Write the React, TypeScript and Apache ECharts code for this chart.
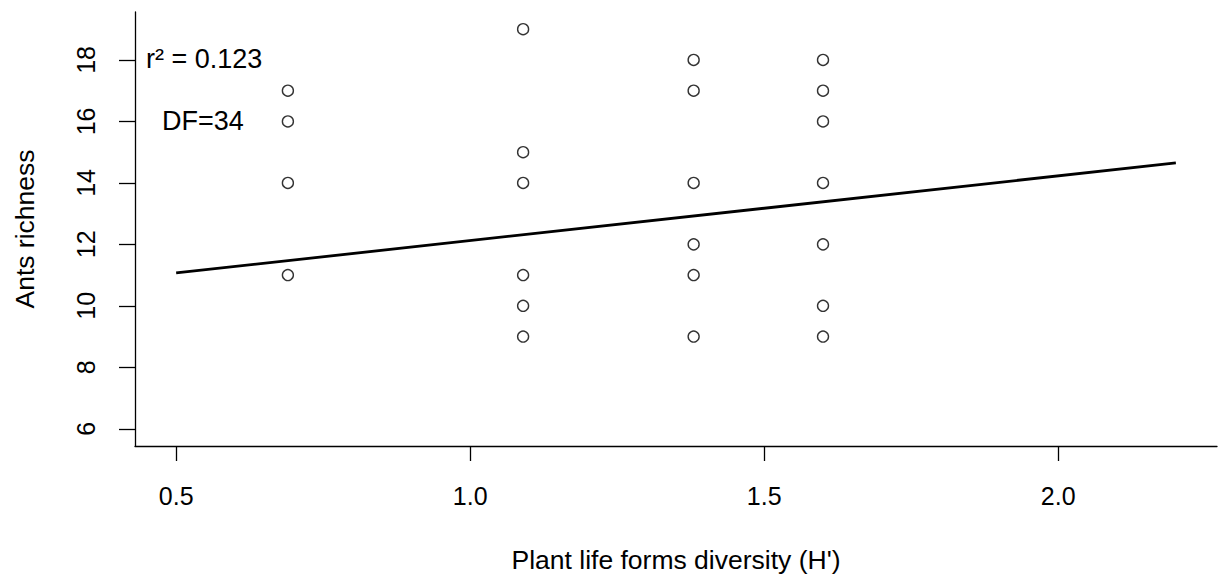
import React, { useEffect, useRef } from "react";
import * as echarts from "echarts";

const xs069 = [17, 16, 14, 11];
const xs109 = [19, 15, 14, 11, 10, 9];
const xs138 = [18, 17, 14, 12, 11, 9];
const xs160 = [18, 17, 16, 14, 12, 10, 9];
const groupX = [0.69, 1.09, 1.38, 1.6];
const groupY = [xs069, xs109, xs138, xs160];
const fitX = [0.5, 2.2];
const fitY = [11.07, 14.65];
const xTicks = [0.5, 1.0, 1.5, 2.0];
const yTicks = [6, 8, 10, 12, 14, 16, 18];

const FONT = "'Liberation Sans', Arial, sans-serif";

export default function App() {
  const ref = useRef<HTMLDivElement>(null);
  useEffect(() => {
    if (!ref.current) return;
    const chart = echarts.init(ref.current, undefined, { renderer: "svg" });
    const pts: number[][] = [];
    groupX.forEach((x, i) => groupY[i].forEach((y) => pts.push([x, y])));
    chart.setOption({
      animation: false,
      backgroundColor: "#ffffff",
      grid: { left: 135, right: 2, top: 12, bottom: 128, outerBoundsMode: "none", containLabel: false },
      xAxis: {
        type: "value",
        min: 0.43,
        max: 2.27,
        splitLine: { show: false },
        axisLine: { show: true, onZero: false, lineStyle: { color: "#000", width: 1.3 } },
        axisTick: { show: true, customValues: xTicks, length: 15, lineStyle: { color: "#000", width: 1.3 } },
        axisLabel: {
          customValues: xTicks,
          formatter: (v: number) => v.toFixed(1),
          color: "#000",
          fontSize: 25,
          fontFamily: FONT,
          margin: 37,
        },
        name: "Plant life forms diversity (H')",
        nameLocation: "middle",
        nameGap: 100,
        nameTextStyle: { color: "#000", fontSize: 26.5, fontFamily: FONT },
      },
      yAxis: {
        type: "value",
        min: 5.44,
        max: 19.56,
        splitLine: { show: false },
        axisLine: { show: true, onZero: false, lineStyle: { color: "#000", width: 1.3 } },
        axisTick: { show: true, customValues: yTicks, length: 16, lineStyle: { color: "#000", width: 1.3 } },
        axisLabel: {
          customValues: yTicks,
          rotate: 90,
          color: "#000",
          fontSize: 25,
          fontFamily: FONT,
          margin: 37,
        },
        name: "Ants richness",
        nameLocation: "middle",
        nameGap: 97,
        nameTextStyle: { color: "#000", fontSize: 26.5, fontFamily: FONT },
      },
      graphic: [
        {
          type: "text",
          left: 146,
          top: 45,
          style: { text: "r² = 0.123", fill: "#000", fontSize: 27, fontFamily: FONT },
        },
        {
          type: "text",
          left: 162,
          top: 107,
          style: { text: "DF=34", fill: "#000", fontSize: 27, fontFamily: FONT },
        },
      ],
      series: [
        {
          type: "line",
          data: fitX.map((x, i) => [x, fitY[i]]),
          symbol: "none",
          lineStyle: { color: "#000", width: 2.8 },
        },
        {
          type: "scatter",
          data: pts,
          symbol: "circle",
          symbolSize: 11,
          itemStyle: { color: "#fff", borderColor: "#000", borderWidth: 1.4 },
        },
      ],
    });
    return () => chart.dispose();
  }, []);
  return (
    <div
      ref={ref}
      style={{ position: "fixed", left: 0, top: 0, width: 1219, height: 574, background: "#fff" }}
    />
  );
}
